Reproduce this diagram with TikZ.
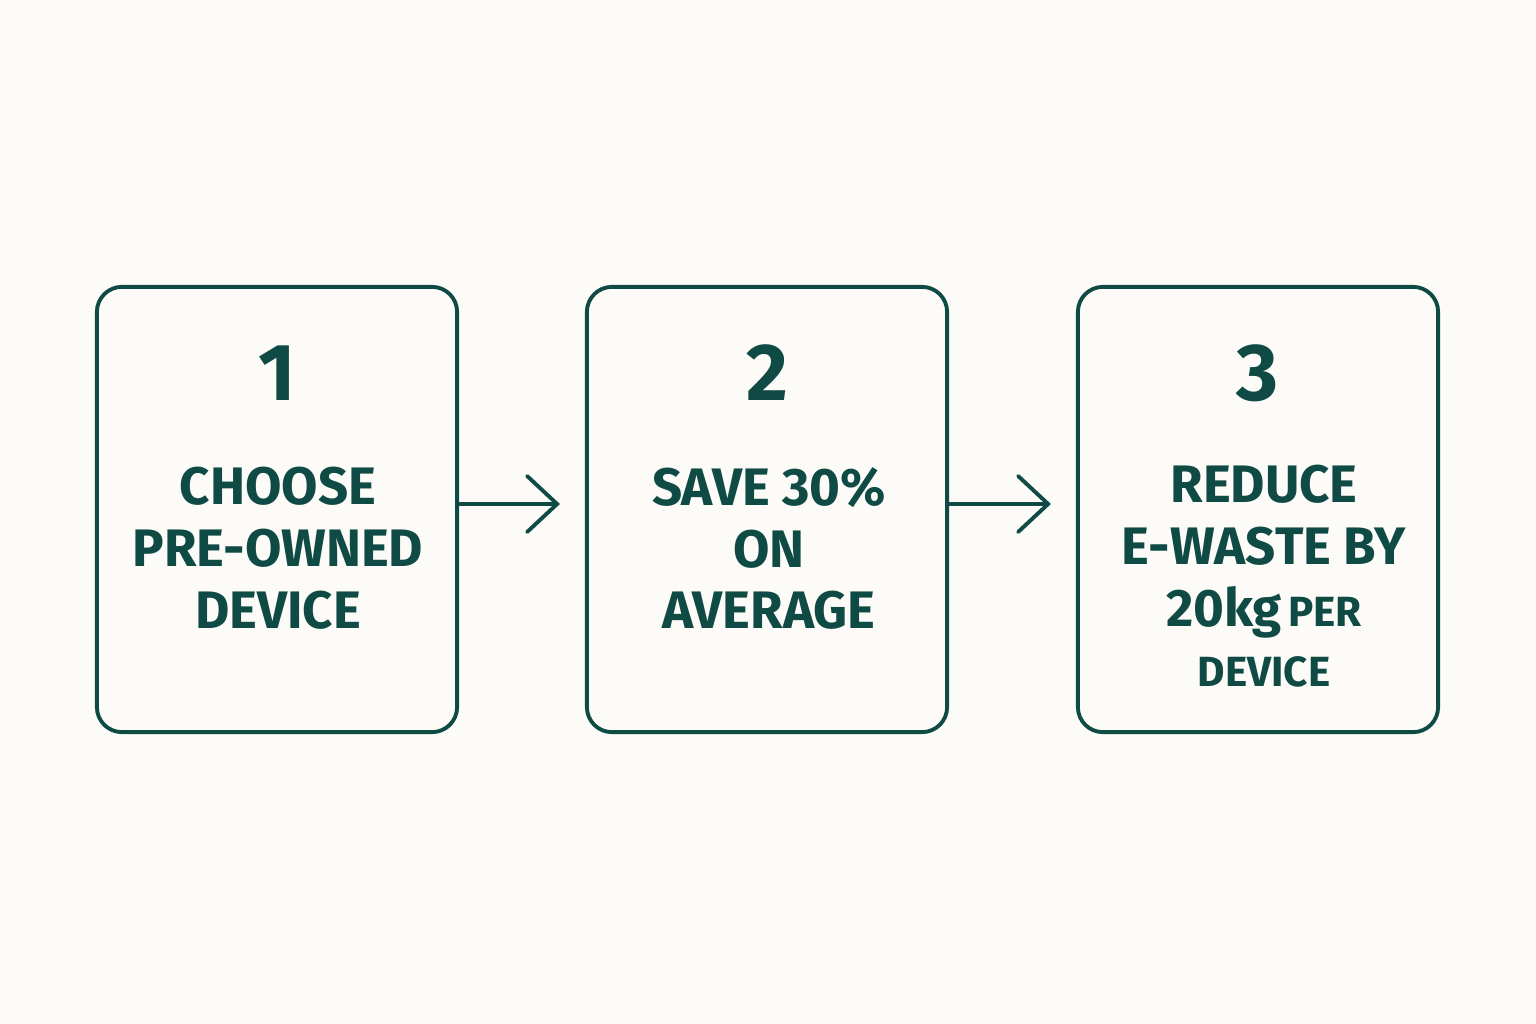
\documentclass[tikz,border=0pt]{standalone}
\usepackage{fontspec}
\setmainfont{Fira Sans}
\usetikzlibrary{arrows.meta}
\definecolor{ink}{HTML}{0F4A45}
\definecolor{paper}{HTML}{FCFBF7}
\tikzset{
  stepbox/.style={draw=ink, line width=1.1pt, rounded corners=0.25cm,
    minimum width=3.6cm, minimum height=4.45cm, inner sep=0pt},
  stepnum/.style={text=ink, inner sep=0pt, font=\fontsize{23}{27}\selectfont\bfseries},
  steptext/.style={text=ink, inner sep=0pt, align=center,
    font=\fontsize{15}{17.6}\selectfont\bfseries},
  flow/.style={draw=ink, line width=1.1pt, line cap=round,
    -{Straight Barb[length=0.3cm, width=0.56cm, line cap=round]}},
}
\begin{document}
\begin{tikzpicture}[x=0.01cm, y=-0.01cm]
  \fill[paper] (0,0) rectangle (1536,1024);
  \useasboundingbox (0,0) rectangle (1536,1024);
  \foreach \i/\x in {1/277, 2/767, 3/1258}
  {
    \node[stepbox] (box\i) at (\x,509.5) {};
    \node[stepnum] (num\i) at (\x,373) {\i};
  }
  \node[steptext] (text1) at (278,548.5) {CHOOSE\\PRE-OWNED\\DEVICE};
  \node[steptext] (text2) at (769,548.5) {SAVE 30\%\\ON\\AVERAGE};
  \node[steptext] (text3) at (1264,576.5)
    {REDUCE\\E-WASTE BY\\20kg\hspace{0.12em}{\fontsize{12}{14}\selectfont PER}\\[-0.5pt]
     {\fontsize{12}{14}\selectfont DEVICE}};
  \draw[flow] ([yshift=0.055cm]box1.east) -- ([yshift=0.055cm, xshift=-0.25cm]box2.west);
  \draw[flow] ([yshift=0.055cm]box2.east) -- ([yshift=0.055cm, xshift=-0.25cm]box3.west);
\end{tikzpicture}
\end{document}
